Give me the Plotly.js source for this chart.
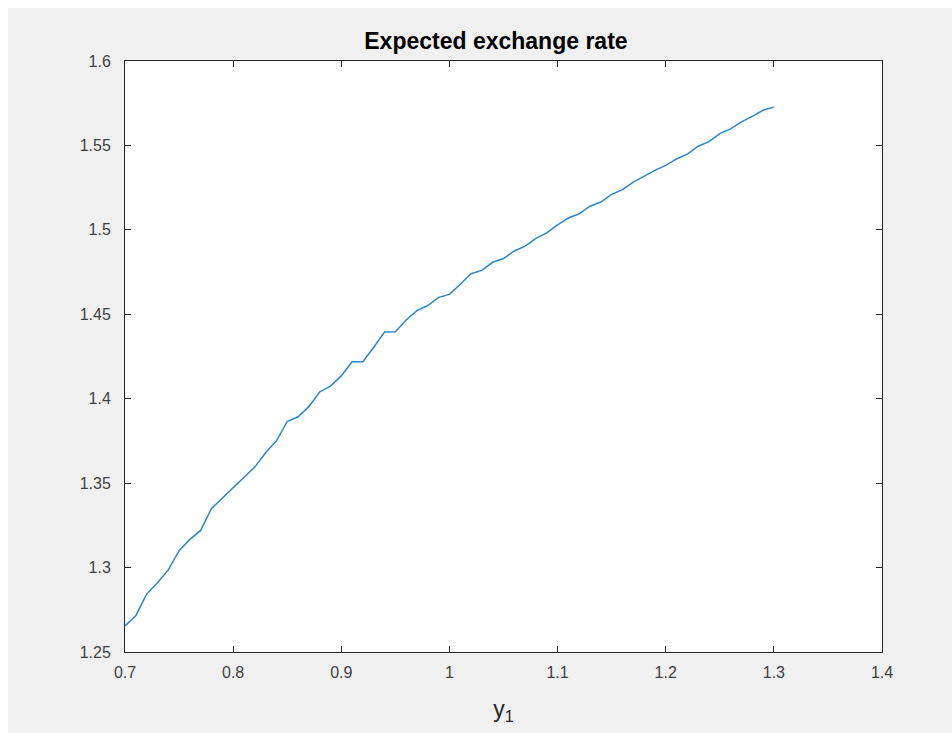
<!DOCTYPE html>
<html>
<head>
<meta charset="utf-8">
<script src="https://cdn.plot.ly/plotly-3.0.1.min.js"></script>
<style>
html,body{margin:0;padding:0;background:#ffffff;}
#plot{position:absolute;left:8px;top:8px;width:944px;height:725px;}
</style>
</head>
<body>
<div id="plot"></div>
<script>
const xValues = [0.70,0.71,0.72,0.73,0.74,0.75,0.76,0.77,0.78,0.79,
  0.80,0.81,0.82,0.83,0.84,0.85,0.86,0.87,0.88,0.89,
  0.90,0.91,0.92,0.93,0.94,0.95,0.96,0.97,0.98,0.99,
  1.00,1.01,1.02,1.03,1.04,1.05,1.06,1.07,1.08,1.09,
  1.10,1.11,1.12,1.13,1.14,1.15,1.16,1.17,1.18,1.19,
  1.20,1.21,1.22,1.23,1.24,1.25,1.26,1.27,1.28,1.29,1.30];
const expectedRate = [1.2655,1.2715,1.2843,1.2910,1.2986,1.3100,1.3167,1.3220,1.3350,1.3410,
  1.3470,1.3530,1.3595,1.3680,1.3750,1.3865,1.3893,1.3953,1.4040,1.4075,
  1.4135,1.4219,1.4219,1.4305,1.4395,1.4397,1.4466,1.4522,1.4552,1.4600,
  1.4618,1.4678,1.4740,1.4760,1.4808,1.4830,1.4875,1.4904,1.4950,1.4982,
  1.5030,1.5070,1.5095,1.5140,1.5165,1.5210,1.5238,1.5283,1.5320,1.5352,
  1.5382,1.5420,1.5448,1.5495,1.5522,1.5570,1.5598,1.5640,1.5672,1.5708,1.5727];
const xTicks = [0.7,0.8,0.9,1.0,1.1,1.2,1.3,1.4];
const xTickLabels = ['0.7','0.8','0.9','1','1.1','1.2','1.3','1.4'];
const yTicks = [1.25,1.3,1.35,1.4,1.45,1.5,1.55,1.6];
const yTickLabels = ['1.25','1.3','1.35','1.4','1.45','1.5','1.55','1.6'];

const axisColor = '#262626';
const tickFont = {family:'Liberation Sans, Arial, sans-serif', size:16, color:'#404040'};

Plotly.newPlot('plot', [{
  x: xValues, y: expectedRate, type:'scatter', mode:'lines',
  line:{color:'#2a86c9', width:1.5}, hoverinfo:'skip'
}], {
  width:944, height:725,
  paper_bgcolor:'#f0f0f0', plot_bgcolor:'#ffffff',
  margin:{l:117, r:70, t:53, b:81},
  showlegend:false,
  title:{text:'<b>Expected exchange rate</b>', x:0.49, xanchor:'center', y:0.955, yanchor:'middle',
    xref:'paper', font:{family:'Liberation Sans, Arial, sans-serif', size:23, color:'#000000'}},
  xaxis:{range:[0.7,1.4], tickvals:xTicks, ticktext:xTickLabels, ticks:'inside', ticklen:6,
    tickcolor:axisColor, showline:true, linecolor:axisColor, linewidth:1, mirror:'ticks',
    showgrid:false, zeroline:false, tickfont:tickFont, ticklabelstandoff:6,
    title:{text:'y<sub>1</sub>', font:{family:'Liberation Sans, Arial, sans-serif', size:23, color:'#262626'}, standoff:20}},
  yaxis:{range:[1.25,1.6], tickvals:yTicks, ticktext:yTickLabels, ticks:'inside', ticklen:6,
    tickcolor:axisColor, showline:true, linecolor:axisColor, linewidth:1, mirror:'ticks',
    showgrid:false, zeroline:false, tickfont:tickFont, ticklabelstandoff:10}
}, {displayModeBar:false, staticPlot:true});
</script>
</body>
</html>
